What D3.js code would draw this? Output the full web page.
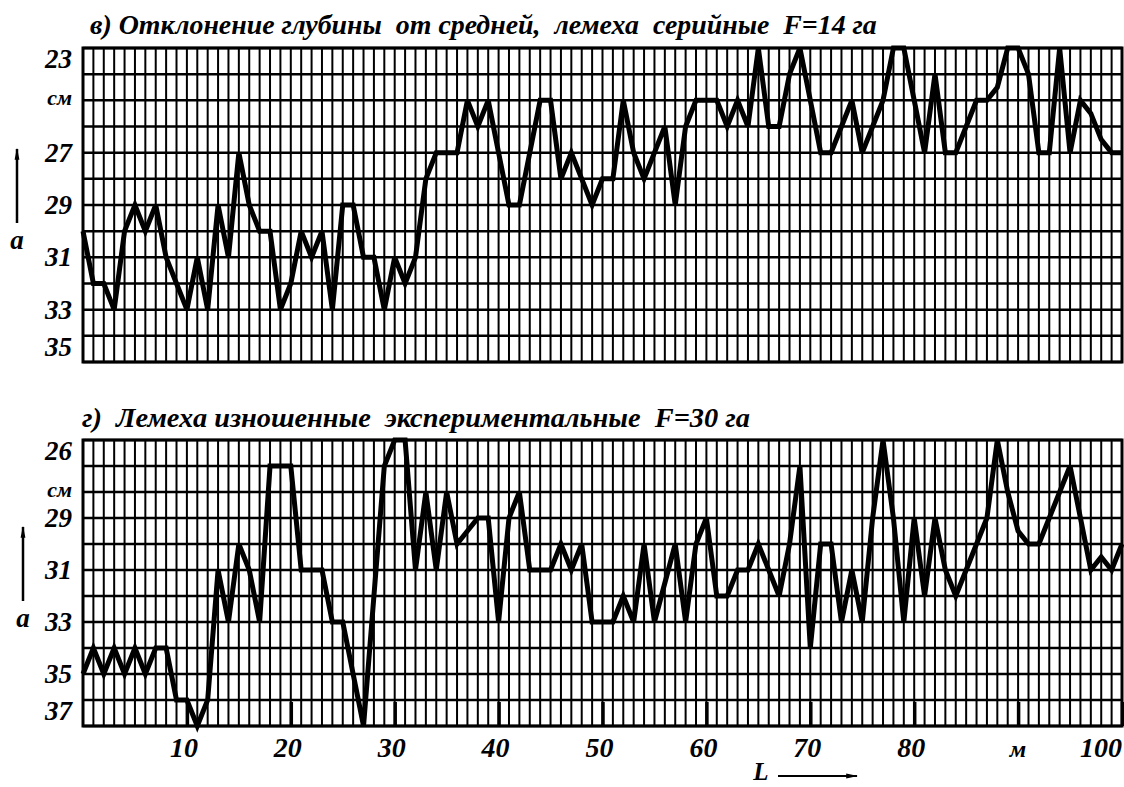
<!DOCTYPE html>
<html>
<head>
<meta charset="utf-8">
<script src="https://cdn.jsdelivr.net/npm/d3@7"></script>
<style>
    body { margin: 0; background: #fff; }
    #chart { width: 1124px; height: 787px; }
</style>
</head>
<body>
<div id="chart"></div>
<script>
// distance along the field, m (one reading per metre)
var distance = d3.range(0, 101);

// depth readings, cm
var depthSerial = [
    30, 32, 32, 33, 30, 29, 30, 29, 31, 32,
    33, 31, 33, 29, 31, 27, 29, 30, 30, 33,
    32, 30, 31, 30, 33, 29, 29, 31, 31, 33,
    31, 32, 31, 28, 27, 27, 27, 25, 26, 25,
    27, 29, 29, 27, 25, 25, 28, 27, 28, 29,
    28, 28, 25, 27, 28, 27, 26, 29, 26, 25,
    25, 25, 26, 25, 26, 23, 26, 26, 24, 23,
    25, 27, 27, 26, 25, 27, 26, 25, 23, 23,
    25, 27, 24, 27, 27, 26, 25, 25, 24.5, 23,
    23, 24, 27, 27, 23, 27, 25, 25.5, 26.5, 27,
    27
];
var depthWorn = [
    35, 34, 35, 34, 35, 34, 35, 34, 34, 36,
    36, 37, 36, 31, 33, 30, 31, 33, 27, 27,
    27, 31, 31, 31, 33, 33, 35, 37, 32, 27,
    26, 26, 31, 28, 31, 28, 30, 29.5, 29, 29,
    33, 29, 28, 31, 31, 31, 30, 31, 30, 33,
    33, 33, 32, 33, 30, 33, 31.5, 30, 33, 30,
    29, 32, 32, 31, 31, 30, 31, 32, 30, 27,
    34, 30, 30, 33, 31, 33, 29, 26, 29, 33,
    29, 32, 29, 31, 32, 31, 30, 29, 26, 28,
    29.5, 30, 30, 29, 28, 27, 29, 31, 30.5, 31,
    30
];

// tick labels
var serialTicks = [23, 25, 27, 29, 31, 33, 35];
var serialTickLabels = ['23', 'см', '27', '29', '31', '33', '35'];
var wornTicks = [26, 28, 29, 31, 33, 35, 37];
var wornTickLabels = ['26', 'см', '29', '31', '33', '35', '37'];
var distTicks = [10, 20, 30, 40, 50, 60, 70, 80, 90, 100];
var distTickLabels = ['10', '20', '30', '40', '50', '60', '70', '80', 'м', '100'];

var titleSerial = 'в) Отклонение глубины  от средней,  лемеха  серийные  F=14 га';
var titleWorn = 'г)  Лемеха изношенные  экспериментальные  F=30 га';

var serif = '"Liberation Serif", "Times New Roman", "DejaVu Serif", serif';

// svg size
var chartWidth = 1124;
var chartHeight = 787;

var svg = d3.select('#chart')
    .append('svg')
        .attr('width', chartWidth)
        .attr('height', chartHeight)
;

svg.append('defs').append('marker')
    .attr('id', 'head')
    .attr('viewBox', '0 0 10 10')
    .attr('refX', 9).attr('refY', 5)
    .attr('markerWidth', 12).attr('markerHeight', 12)
    .attr('markerUnits', 'userSpaceOnUse')
    .attr('orient', 'auto')
    .append('path')
        .attr('d', 'M0,3 L10,5 L0,7 Z')
        .style('fill', '#000')
;

function label (sel, size) {
    return sel
        .attr('font-family', serif)
        .attr('font-weight', 'bold')
        .attr('font-style', 'italic')
        .attr('font-size', size)
        .attr('fill', '#000');
}

var x = d3.scaleLinear().domain([0, 100]).range([83, 1122]);

function panel (values, yDomain, top, bottom, ticks, tickLabels, title, titleX, titleY, titleWidth, arrowX) {
    var y = d3.scaleLinear().domain(yDomain).range([top, bottom]);
    var g = svg.append('g');

    // vertical grid, every metre
    g.append('g').selectAll('line')
        .data(distance)
        .enter().append('line')
            .attr('x1', function(d){ return x(d) })
            .attr('x2', function(d){ return x(d) })
            .attr('y1', top)
            .attr('y2', bottom)
            .style('stroke', '#000')
            .style('stroke-width', 2)
    ;

    // horizontal grid, every cm
    g.append('g').selectAll('line')
        .data(d3.range(yDomain[0], yDomain[1] + 1))
        .enter().append('line')
            .attr('x1', x(0))
            .attr('x2', x(100))
            .attr('y1', function(d){ return y(d) })
            .attr('y2', function(d){ return y(d) })
            .style('stroke', '#000')
            .style('stroke-width', 2.5)
    ;

    g.append('rect')
        .attr('x', x(0)).attr('y', top)
        .attr('width', x(100) - x(0)).attr('height', bottom - top)
        .style('fill', 'none')
        .style('stroke', '#000')
        .style('stroke-width', 3)
    ;

    var line = d3.line()
        .x(function(d, i){ return x(distance[i]) })
        .y(function(d){ return y(d) });

    g.append('path')
        .datum(values)
        .attr('d', line)
        .style('fill', 'none')
        .style('stroke', '#000')
        .style('stroke-width', 5)
        .style('stroke-linejoin', 'miter')
        .style('stroke-miterlimit', 3)
    ;

    // depth labels
    g.append('g').selectAll('text')
        .data(ticks)
        .enter().append('text')
            .attr('x', 72)
            .attr('y', function(d, i){
                var off = 9;
                if (tickLabels[i] == 'см') off = 5;
                if (i == 0) off = 20;
                if (i == ticks.length - 1) off = -6;
                return y(d) + off;
            })
            .attr('text-anchor', 'end')
            .text(function(d, i){ return tickLabels[i] })
            .each(function(d, i){ label(d3.select(this), tickLabels[i] == 'см' ? 22 : 27) })
    ;

    // title, sized to span the same width as on paper
    var t = g.append('text')
        .attr('x', titleX)
        .attr('y', titleY)
        .attr('xml:space', 'preserve')
        .style('white-space', 'pre')
        .text(title);
    label(t, 24);
    var w = t.node().getComputedTextLength();
    t.attr('font-size', Math.min(30, 24 * titleWidth / w));

    // a arrow
    var mid = (top + bottom) / 2;
    g.append('line')
        .attr('x1', arrowX).attr('x2', arrowX)
        .attr('y1', mid + 18).attr('y2', mid - 56)
        .style('stroke', '#000')
        .style('stroke-width', 2.5)
        .attr('marker-end', 'url(#head)')
    ;
    label(g.append('text'), 27)
        .attr('x', arrowX)
        .attr('y', mid + 44)
        .attr('text-anchor', 'middle')
        .text('a')
    ;

    return y;
}

panel(depthSerial, [23, 35], 48, 362, serialTicks, serialTickLabels, titleSerial, 90, 34, 787, 17);
panel(depthWorn, [26, 37], 440, 726, wornTicks, wornTickLabels, titleWorn, 82, 427, 668, 23);

// distance axis under the lower panel
svg.append('g')
    .attr('transform', 'translate(0,726)')
    .call(d3.axisBottom(x).tickValues(distTicks).tickSize(-24).tickFormat(''))
    .call(function(a){ a.select('.domain').remove(); a.selectAll('line').style('stroke-width', 3.5); })
;

svg.append('g').selectAll('text')
    .data(distTicks)
    .enter().append('text')
        .attr('x', function(d, i){
            if (i == distTicks.length - 1) return x(d);
            return distTickLabels[i] == 'м' ? x(d) : x(d) - 3;
        })
        .attr('y', 757)
        .attr('text-anchor', function(d, i){ return i == distTicks.length - 1 ? 'end' : 'middle' })
        .text(function(d, i){ return distTickLabels[i] })
        .each(function(d, i){ label(d3.select(this), distTickLabels[i] == 'м' ? 24 : 28) })
;

label(svg.append('text'), 25)
    .attr('x', 761).attr('y', 780)
    .attr('text-anchor', 'middle')
    .text('L');

svg.append('line')
    .attr('x1', 778).attr('x2', 857)
    .attr('y1', 776).attr('y2', 776)
    .style('stroke', '#000')
    .style('stroke-width', 2)
    .attr('marker-end', 'url(#head)');
</script>
</body>
</html>
